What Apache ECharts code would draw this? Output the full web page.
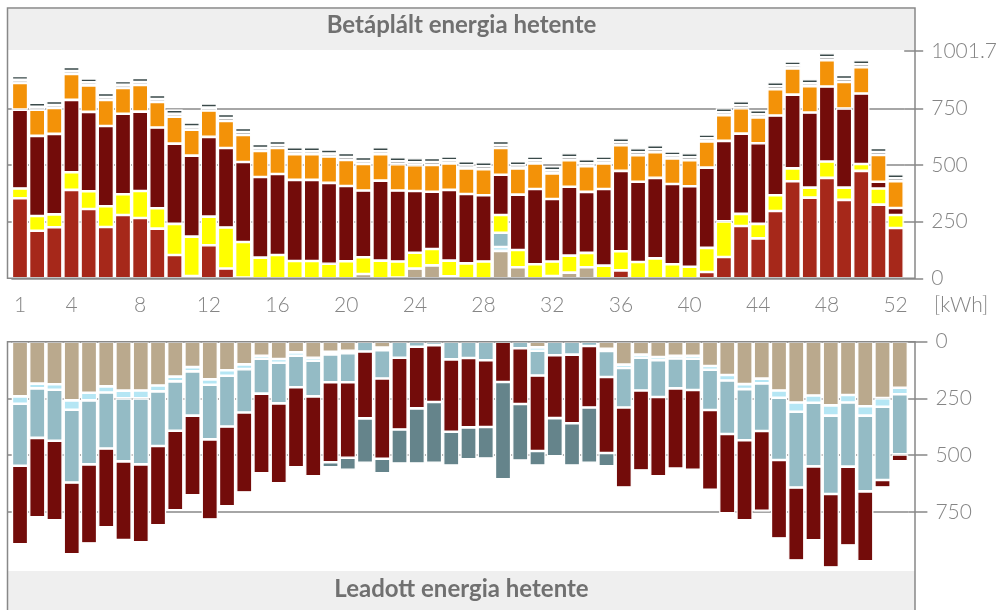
<!DOCTYPE html>
<html>
<head>
<meta charset="utf-8">
<script src="https://cdn.jsdelivr.net/npm/echarts@6/dist/echarts.min.js"></script>
<style>
html, body { margin: 0; padding: 0; background: #fff; }
#chart { width: 1000px; height: 610px; }
</style>
</head>
<body>
<div id="chart"></div>
<script>
// hetek
var weeks = [];
for (var w = 1; w <= 52; w++) weeks.push(String(w));

// Betáplált energia (felfelé), alulról felfelé rakva
var inTan = [0,0,0,0,0,0,0,0,0,0, 0,0,0,0,0,0,0,0,0,0,
  19,0,3,43,57,9,0,0,121,49, 0,10,25,49,0,0,0,0,0,0, 0,0,0,0,0,0,0,0,0,0, 0,0];
var inLightBlue = [0,0,0,0,0,0,0,0,0,0, 0,0,0,0,0,0,0,0,0,0,
  0,0,0,0,0,0,0,0,17,0, 0,0,0,0,0,0,0,0,0,0, 0,0,0,0,0,0,0,0,0,0, 0,0];
var inBlueGray = [0,0,0,0,0,0,0,0,0,0, 0,0,0,0,0,0,0,0,0,0,
  0,0,0,0,0,0,0,0,63,0, 0,0,0,0,0,0,0,0,0,0, 0,0,0,0,0,0,0,0,0,0, 0,0];
var inRed = [353,210,225,390,306,226,279,266,219,103, 10,146,43,3,0,0,0,0,0,0,
  0,0,0,0,0,0,0,0,0,0, 0,0,0,0,0,35,0,0,0,0, 28,94,231,176,297,428,356,443,346,474, 325,222];
var inYellow = [43,65,57,78,78,92,92,119,90,137, 174,126,181,157,91,103,76,76,64,75,
  74,78,71,70,72,69,66,74,78,76, 62,64,75,63,56,84,72,88,62,51, 106,157,53,64,69,57,44,72,54,30, 71,57];
var inMaroon = [348,353,355,319,350,354,355,350,356,354, 357,352,351,353,356,357,358,358,357,332,
  294,353,313,272,253,312,306,292,178,244, 332,276,304,269,338,355,354,355,354,355,
  354,355,354,356,352,325,331,331,349,311, 30,31];
var inOrange = [118,116,114,114,117,115,114,118,113,119, 115,116,119,119,115,115,113,113,116,115,
  117,116,116,114,118,117,113,115,118,116, 113,113,117,113,113,113,117,113,113,115,
  116,113,112,114,116,116,116,116,117,116, 118,118];
var inGray = [13,13,13,13,13,13,13,13,13,13, 13,13,13,13,13,13,13,13,13,13,
  13,13,13,13,13,13,13,13,13,13, 13,13,13,13,13,13,13,13,13,13, 13,13,13,13,13,13,13,13,13,13, 13,13];
var inDark = [18,18,18,18,18,18,18,18,18,18, 18,18,18,18,18,18,18,18,18,18,
  18,18,18,18,18,18,18,18,18,18, 18,18,18,18,18,18,18,18,18,18, 18,18,18,18,18,18,18,18,18,18, 18,18];

// Leadott energia (lefelé), a nullától lefelé rakva
var outTan = [241,185,188,259,225,197,216,215,193,154, 112,166,126,100,62,76,47,71,44,40,
  0,26,0,0,0,0,0,0,0,0, 25,0,0,0,31,101,57,68,62,62, 107,147,187,163,215,268,237,281,235,285, 249,203];
var outLightBlue = [33,21,24,41,34,27,34,35,26,21, 19,24,24,21,13,17,15,13,12,11,
  0,12,0,0,0,0,0,0,0,0, 15,0,0,0,10,15,14,14,12,13, 17,24,22,21,32,41,32,45,33,41, 38,29];
var outBlueGray = [273,218,225,321,282,247,278,291,241,218, 195,241,224,191,154,179,139,157,123,128,
  43,124,71,22,15,78,72,82,0,29, 109,60,57,19,115,174,144,162,132,138,
  177,236,226,210,275,334,281,346,283,334, 323,265];
var outMaroon = [347,351,351,317,349,348,347,344,350,351, 352,353,352,353,352,353,353,353,353,333,
  295,354,316,272,251,319,306,294,178,246, 333,277,303,271,335,353,353,350,354,352,
  352,350,353,352,346,322,326,324,348,309, 33,31];
var outTeal = [0,0,0,0,0,0,0,0,0,0, 0,0,0,0,0,0,9,0,22,53,
  196,65,150,243,268,149,141,139,429,249, 64,169,186,244,59,8,0,12,0,0, 0,0,0,0,0,0,0,0,0,0, 0,0];

var yMax = 1001.7;
var topTicks = [0, 250, 500, 750, 1001.7];
var bottomTicks = [0, 250, 500, 750];
var innerTicks = [250, 500, 750];

var axisGray = '#888';
var textGray = '#858585';
var fontName = 'Lato';

function showWeek(idx) {
  return idx === 0 || (idx + 1) % 4 === 0;
}

function bar(name, data, color, stack, axisIdx) {
  return {
    type: 'bar',
    name: name,
    stack: stack,
    xAxisIndex: axisIdx,
    yAxisIndex: axisIdx,
    data: data,
    barWidth: 16.3,
    itemStyle: { color: color, borderColor: '#fff', borderWidth: 1.3 },
    emphasis: { disabled: true },
    animation: false
  };
}

function rightAxis(grid, ticks, inverse) {
  return {
    gridIndex: grid, type: 'value', position: 'right', min: 0, max: yMax, inverse: inverse,
    axisLine: { show: false },
    axisTick: { show: true, customValues: ticks, length: 19, lineStyle: { color: axisGray, width: 1.5 } },
    axisLabel: {
      customValues: ticks, margin: 27, fontSize: 21, fontWeight: 300, color: textGray, fontFamily: fontName,
      padding: [10, 0, 0, 0],
      formatter: function (v) { return String(v); }
    },
    splitLine: { show: true, lineStyle: { color: [axisGray, axisGray, axisGray, axisGray, 'rgba(0,0,0,0)'], width: 1.5 } }
  };
}

function leftAxis(grid, inverse) {
  return {
    gridIndex: grid, type: 'value', position: 'left', min: 0, max: yMax, inverse: inverse,
    axisLine: { show: false },
    axisTick: { show: true, customValues: innerTicks, length: 4, lineStyle: { color: axisGray, width: 1.5 } },
    axisLabel: { show: false },
    splitLine: { show: false }
  };
}

var chart = echarts.init(document.getElementById('chart'));

var option = {
  backgroundColor: '#fff',
  animation: false,
  grid: [
    { left: 11.4, right: 91.6, top: 51.2, height: 227.1 },
    { left: 11.4, right: 91.6, top: 341.7, height: 227.1 }
  ],
  xAxis: [
    {
      gridIndex: 0, type: 'category', data: weeks, position: 'bottom',
      axisLine: { show: false },
      axisTick: { interval: showWeek, alignWithLabel: true, length: 12, lineStyle: { color: axisGray, width: 2 } },
      axisLabel: { interval: showWeek, margin: 16, fontSize: 21, fontWeight: 300, color: textGray, fontFamily: fontName }
    },
    {
      gridIndex: 1, type: 'category', data: weeks, position: 'top',
      axisLine: { show: false },
      axisTick: { interval: showWeek, alignWithLabel: true, length: 12, lineStyle: { color: axisGray, width: 2 } },
      axisLabel: { show: false }
    }
  ],
  yAxis: [
    rightAxis(0, topTicks, false),
    rightAxis(1, bottomTicks, true),
    leftAxis(0, false),
    leftAxis(1, true)
  ],
  series: [
    bar('Betáplált 1', inTan, '#baa98d', 'be', 0),
    bar('Betáplált 2', inLightBlue, '#b5e6f4', 'be', 0),
    bar('Betáplált 3', inBlueGray, '#94bbc5', 'be', 0),
    bar('Betáplált 4', inRed, '#a6281a', 'be', 0),
    bar('Betáplált 5', inYellow, '#ffff00', 'be', 0),
    bar('Betáplált 6', inMaroon, '#730c0a', 'be', 0),
    bar('Betáplált 7', inOrange, '#f39208', 'be', 0),
    bar('Betáplált 8', inGray, '#808080', 'be', 0),
    bar('Betáplált 9', inDark, '#3a4a4a', 'be', 0),
    bar('Leadott 1', outTan, '#baa98d', 'le', 1),
    bar('Leadott 2', outLightBlue, '#b5e6f4', 'le', 1),
    bar('Leadott 3', outBlueGray, '#94bbc5', 'le', 1),
    bar('Leadott 4', outMaroon, '#730c0a', 'le', 1),
    bar('Leadott 5', outTeal, '#65848b', 'le', 1)
  ],
  graphic: [
    { type: 'rect', z: 10, silent: true, shape: { x: 8, y: 9, width: 907, height: 41 }, style: { fill: '#efefef' } },
    { type: 'text', z: 11, silent: true, x: 461.5, y: 25,
      style: { text: 'Betáplált energia hetente', fill: '#707070', font: 'bold 24px Lato', align: 'center', verticalAlign: 'middle' } },
    { type: 'rect', z: 10, silent: true, shape: { x: 8, y: 571, width: 907, height: 45 }, style: { fill: '#efefef' } },
    { type: 'text', z: 11, silent: true, x: 461.5, y: 589,
      style: { text: 'Leadott energia hetente', fill: '#707070', font: 'bold 24px Lato', align: 'center', verticalAlign: 'middle' } },
    { type: 'rect', z: 12, silent: true, shape: { x: 7.5, y: 8, width: 907.5, height: 270.3 },
      style: { fill: 'none', stroke: axisGray, lineWidth: 1.5 } },
    { type: 'rect', z: 12, silent: true, shape: { x: 7.5, y: 341.7, width: 907.5, height: 290 },
      style: { fill: 'none', stroke: axisGray, lineWidth: 1.5 } },
    { type: 'text', z: 11, silent: true, x: 934, y: 305,
      style: { text: '[kWh]', fill: textGray, font: '300 21px Lato', align: 'left', verticalAlign: 'middle' } }
  ]
};

chart.setOption(option);
</script>
</body>
</html>
